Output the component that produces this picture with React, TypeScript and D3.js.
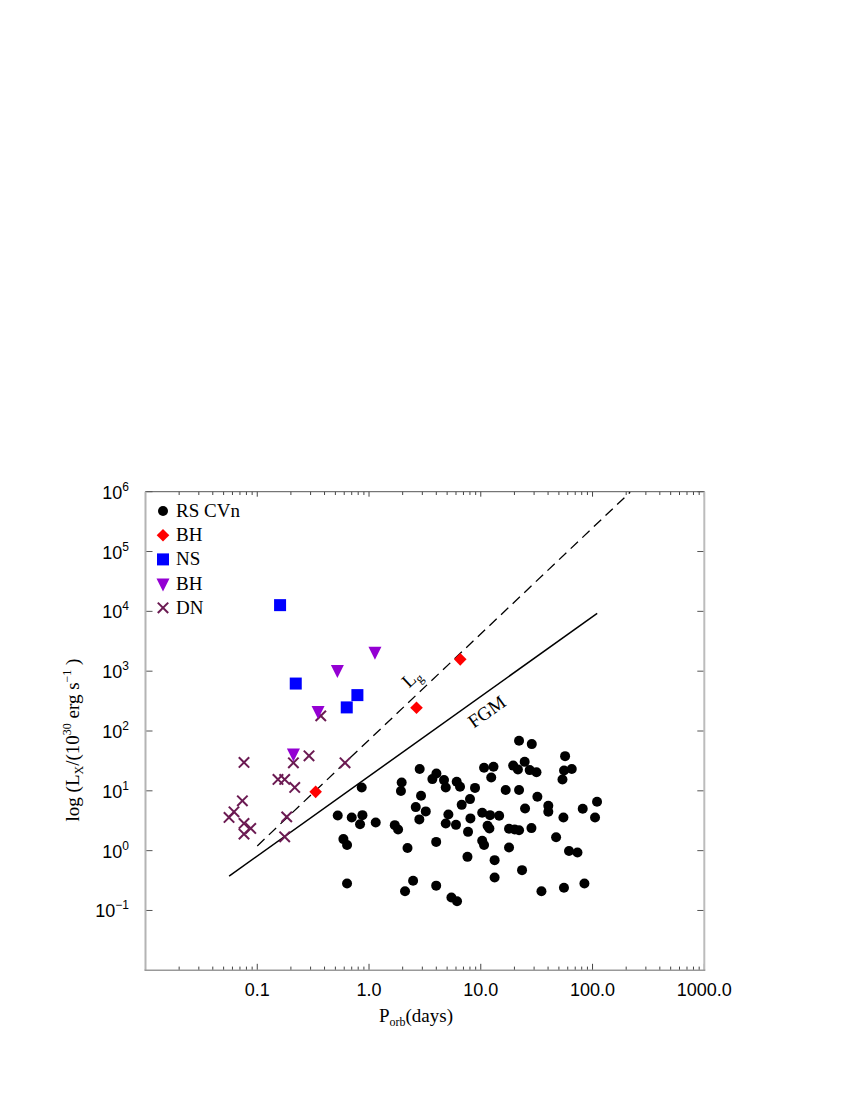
import React from "react";
import * as d3 from "d3";

// ---------- data (P_orb in days, L_X in 1e30 erg/s) ----------
const rsCvnP = [
  2.84, 4.01, 3.69, 4.69, 4.86, 6.09, 6.52, 8.88, 10.7, 13.0, 12.4, 1.96, 1.93, 2.92, 0.86,
  2.62, 3.22, 2.82, 5.13, 4.86, 6.0, 6.75, 8.01, 8.08, 7.69, 10.3, 12.1, 14.6, 11.5, 11.95,
  10.3, 10.7, 7.6, 13.3, 13.3, 0.525, 0.70, 0.873, 0.831, 1.148, 1.70, 1.82, 0.59, 0.636, 2.21,
  3.99, 0.636, 2.48, 2.10, 3.99, 5.46, 6.13, 22.0, 28.6, 56.8, 19.5, 21.5, 24.7, 27.4, 31.5,
  55.6, 65.2, 53.8, 16.7, 22.0, 32.1, 24.9, 40.2, 40.2, 54.9, 81.7, 109.7, 105.3, 17.9, 20.1,
  22.0, 28.4, 47.2, 17.9, 61.6, 73.3, 23.4, 34.9, 55.5, 84.6,
];
const rsCvnL = [
  23.1, 19.5, 15.7, 15.1, 11.4, 14.2, 11.7, 11.2, 24.3, 25.2, 16.7, 13.8, 9.9, 8.25, 11.4,
  5.34, 4.53, 3.33, 4.03, 2.85, 2.70, 5.83, 7.27, 3.46, 2.06, 4.29, 3.92, 3.82, 2.60, 2.35,
  1.46, 1.24, 0.787, 0.694, 0.356, 3.88, 3.59, 3.92, 2.77, 2.96, 2.67, 2.26, 1.56, 1.24, 1.11,
  1.40, 0.283, 0.313, 0.210, 0.26, 0.165, 0.143, 68.6, 60.4, 38.0, 26.4, 22.8, 30.5, 22.2, 20.5,
  21.8, 23.1, 15.5, 10.3, 10.3, 7.94, 5.08, 5.61, 4.46, 3.59, 5.0, 6.55, 3.59, 2.32, 2.26,
  2.20, 2.38, 1.68, 1.13, 0.99, 0.93, 0.472, 0.210, 0.239, 0.283,
];

const bhDiamondP = [6.55, 2.66, 0.333];
const bhDiamondL = [1575, 244, 9.62];

const nsP = [0.16, 0.221, 0.787, 0.632];
const nsL = [12700, 621, 398, 248];

const bhTriP = [1.13, 0.521, 0.35, 0.2106];
const bhTriL = [2110, 1043, 215, 41.9];

const dnP = [
  0.37, 0.0761, 0.2106, 0.2904, 0.61, 0.1533, 0.176, 0.2164, 0.0736, 0.0619, 0.0559, 0.0761,
  0.0874, 0.0761, 0.1835, 0.176,
];
const dnL = [
  179, 29.8, 29.4, 38.5, 29.4, 15.5, 15.5, 11.4, 6.8, 4.46, 3.59, 2.85, 2.35, 1.89, 3.67, 1.70,
];

// reference lines: L_g (dashed) and FGM (solid)
const lgP = [0.1, 217];
const lgL = [1.2, 9.8e5];
const fgmP = [0.056, 110];
const fgmL = [0.375, 9260];

const xTickLabels = ["0.1", "1.0", "10.0", "100.0", "1000.0"];
const xTickValues = [0.1, 1, 10, 100, 1000];
const yTickExps = [6, 5, 4, 3, 2, 1, 0, -1];

const legendItems = ["RS CVn", "BH", "NS", "BH", "DN"];

const SANS = "'Liberation Sans', Arial, Helvetica, sans-serif";
const SERIF = "'Liberation Serif', 'Times New Roman', Times, serif";

const COLOR_BH = "#ff0000";
const COLOR_NS = "#0000ff";
const COLOR_TRI = "#9400d3";
const COLOR_DN = "#6b1a52";

function Diamond({ cx, cy, s = 6.3, fill }: { cx: number; cy: number; s?: number; fill: string }) {
  return <path d={`M${cx},${cy - s}L${cx + s},${cy}L${cx},${cy + s}L${cx - s},${cy}Z`} fill={fill} />;
}
function Square({ cx, cy, s = 12, fill }: { cx: number; cy: number; s?: number; fill: string }) {
  return <rect x={cx - s / 2} y={cy - s / 2} width={s} height={s} fill={fill} />;
}
function TriDown({ cx, cy, fill }: { cx: number; cy: number; fill: string }) {
  const w = 6.5;
  return <path d={`M${cx - w},${cy - 5}L${cx + w},${cy - 5}L${cx},${cy + 8}Z`} fill={fill} />;
}
function Cross({ cx, cy, color }: { cx: number; cy: number; color: string }) {
  const h = 5.2;
  return (
    <g stroke={color} strokeWidth={2}>
      <line x1={cx - h} y1={cy - h} x2={cx + h} y2={cy + h} />
      <line x1={cx - h} y1={cy + h} x2={cx + h} y2={cy - h} />
    </g>
  );
}

export default function App() {
  const x = d3.scaleLog().domain([0.01, 1000]).range([145.5, 704.3]);
  const y = d3.scaleLog().domain([0.01, 1e6]).range([970.3, 491.7]);

  const left = x(0.01);
  const right = x(1000);
  const top = y(1e6);
  const bottom = y(0.01);

  const xt = x.ticks();
  const isMajor = (v: number) => Math.abs(Math.log10(v) - Math.round(Math.log10(v))) < 1e-6;

  const line = d3
    .line<[number, number]>()
    .x((d) => x(d[0]))
    .y((d) => y(d[1]));

  const lgPts: [number, number][] = lgP.map((p, i) => [p, lgL[i]]);
  const fgmPts: [number, number][] = fgmP.map((p, i) => [p, fgmL[i]]);

  const lgAngle =
    (Math.atan2(y(lgL[1]) - y(lgL[0]), x(lgP[1]) - x(lgP[0])) * 180) / Math.PI;
  const fgmAngle =
    (Math.atan2(y(fgmL[1]) - y(fgmL[0]), x(fgmP[1]) - x(fgmP[0])) * 180) / Math.PI;

  const legX = 163;
  const legY0 = 511;
  const legDy = 24.2;

  return (
    <svg
      width={850}
      height={1100}
      style={{ position: "absolute", left: 0, top: 0, background: "#fff" }}
    >
      <rect x={0} y={0} width={850} height={1100} fill="#fff" />

      {/* x ticks bottom & top */}
      {xt.map((v, i) => {
        const px = x(v);
        const maj = isMajor(v);
        return (
          <g key={"xt" + i} stroke="#444" strokeWidth={1}>
            <line x1={px} x2={px} y1={bottom} y2={bottom - (maj ? 6.5 : 3.7)} />
            <line x1={px} x2={px} y1={top} y2={top + (maj ? 5 : 3.3)} />
          </g>
        );
      })}
      {/* y ticks left & right */}
      {yTickExps.map((e) => {
        const py = y(Math.pow(10, e));
        return (
          <g key={"yt" + e} stroke="#555" strokeWidth={1}>
            <line x1={left} x2={left + 7} y1={py} y2={py} />
            <line x1={right} x2={right - 7} y1={py} y2={py} />
          </g>
        );
      })}

      {/* frame */}
      <line x1={left} x2={right} y1={top} y2={top} stroke="#555" strokeWidth={1} />
      <line x1={left} x2={left} y1={top} y2={bottom} stroke="#b4b4b4" strokeWidth={2} />
      <line x1={right} x2={right} y1={top} y2={bottom} stroke="#bcbcbc" strokeWidth={2} />
      <line x1={left - 1} x2={right + 1} y1={bottom} y2={bottom} stroke="#999" strokeWidth={1.6} />

      {/* x tick labels */}
      {xTickValues.map((v, i) => (
        <text
          key={"xl" + i}
          x={x(v)}
          y={996}
          textAnchor="middle"
          fontFamily={SANS}
          fontSize={18}
          fill="#000"
        >
          {xTickLabels[i]}
        </text>
      ))}
      {/* y tick labels */}
      {yTickExps.map((e) => {
        const py = y(Math.pow(10, e));
        return (
          <text key={"yl" + e} x={129} y={py + 7} textAnchor="end" fontFamily={SANS} fontSize={18} fill="#000">
            10
            <tspan fontSize={12} dy={-8}>
              {String(e).replace("-", "\u2212")}
            </tspan>
          </text>
        );
      })}

      {/* axis titles */}
      <text x={416} y={1022} textAnchor="middle" fontFamily={SERIF} fontSize={19} fill="#000">
        P<tspan fontSize={12} dy={4}>orb</tspan>
        <tspan dy={-4}>(days)</tspan>
      </text>
      <text
        transform={`translate(79,740) rotate(-90)`}
        textAnchor="middle"
        fontFamily={SERIF}
        fontSize={19}
        fill="#000"
      >
        log (L<tspan fontSize={12} dy={4}>X</tspan>
        <tspan dy={-4}>/(10</tspan>
        <tspan fontSize={12} dy={-8}>30</tspan>
        <tspan dy={8}>{"\u00a0erg s"}</tspan>
        <tspan fontSize={12} dy={-8}>{"\u22121"}</tspan>
        <tspan dy={8}>{"\u00a0)"}</tspan>
      </text>

      {/* reference lines */}
      <path d={line(lgPts) || ""} fill="none" stroke="#000" strokeWidth={1.3} strokeDasharray="10,6" />
      <path d={line(fgmPts) || ""} fill="none" stroke="#000" strokeWidth={1.5} />
      <text
        transform={`translate(412,679) rotate(${lgAngle})`}
        textAnchor="middle"
        fontFamily={SERIF}
        fontSize={19}
        fill="#000"
        y={5}
      >
        L<tspan fontSize={13} dy={4}>g</tspan>
      </text>
      <text
        transform={`translate(487,712) rotate(${fgmAngle})`}
        textAnchor="middle"
        fontFamily={SERIF}
        fontSize={19}
        fill="#000"
        y={6}
      >
        FGM
      </text>

      {/* data */}
      {rsCvnP.map((p, i) => (
        <circle key={"rs" + i} cx={x(p)} cy={y(rsCvnL[i])} r={5} fill="#000" />
      ))}
      {dnP.map((p, i) => (
        <Cross key={"dn" + i} cx={x(p)} cy={y(dnL[i])} color={COLOR_DN} />
      ))}
      {nsP.map((p, i) => (
        <Square key={"ns" + i} cx={x(p)} cy={y(nsL[i])} fill={COLOR_NS} />
      ))}
      {bhTriP.map((p, i) => (
        <TriDown key={"bt" + i} cx={x(p)} cy={y(bhTriL[i])} fill={COLOR_TRI} />
      ))}
      {bhDiamondP.map((p, i) => (
        <Diamond key={"bd" + i} cx={x(p)} cy={y(bhDiamondL[i])} fill={COLOR_BH} />
      ))}

      {/* legend */}
      <circle cx={legX} cy={legY0} r={5} fill="#000" />
      <Diamond cx={legX} cy={legY0 + legDy} fill={COLOR_BH} />
      <Square cx={legX} cy={legY0 + 2 * legDy} fill={COLOR_NS} />
      <TriDown cx={legX} cy={legY0 + 3 * legDy} fill={COLOR_TRI} />
      <Cross cx={legX} cy={legY0 + 4 * legDy} color={COLOR_DN} />
      {legendItems.map((t, i) => (
        <text
          key={"lg" + i}
          x={176}
          y={legY0 + i * legDy + 6}
          fontFamily={SERIF}
          fontSize={19}
          fill="#000"
        >
          {t}
        </text>
      ))}
    </svg>
  );
}
